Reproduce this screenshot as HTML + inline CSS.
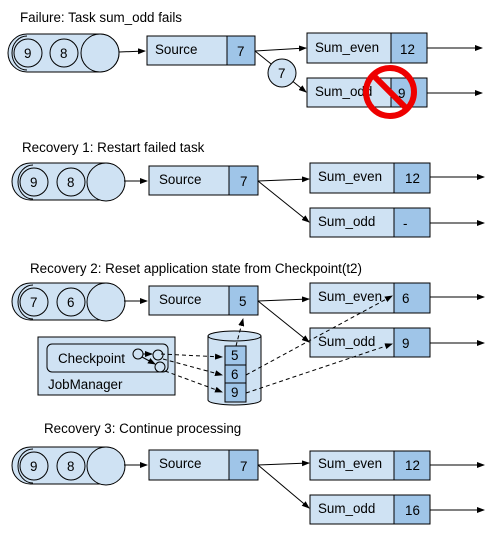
<!DOCTYPE html>
<html><head><meta charset="utf-8"><style>body{margin:0;background:#fff}svg{display:block}text{font-family:"Liberation Sans",Arial,sans-serif;font-size:13.4px;fill:#000}</style></head><body>
<svg width="498" height="540" viewBox="0 0 498 540" xmlns="http://www.w3.org/2000/svg">
<defs><marker id="a" markerWidth="8" markerHeight="6" refX="7" refY="3" orient="auto" markerUnits="userSpaceOnUse"><path d="M0,0L8,3L0,6z" fill="#000"/></marker></defs>
<g stroke="#000" stroke-width="1">
<!-- Section 1 -->
<rect x="8" y="34" width="111" height="38" rx="19" fill="#cfe2f3"/>
<path d="M27,36 A15,17 0 0 0 27,70" fill="none"/>
<circle cx="28" cy="53" r="14" fill="#cfe2f3"/>
<circle cx="64" cy="53" r="14" fill="#cfe2f3"/>
<circle cx="100" cy="53" r="19" fill="#cfe2f3"/>
<line x1="119" y1="52" x2="145" y2="51" marker-end="url(#a)"/>
<rect x="147" y="36" width="108" height="29" fill="#cfe2f3"/><rect x="227" y="36" width="28" height="29" fill="#9fc5e8"/>
<rect x="307" y="33" width="120" height="30" fill="#cfe2f3"/><rect x="391" y="33" width="36" height="30" fill="#9fc5e8"/>
<rect x="307" y="78" width="120" height="29" fill="#cfe2f3"/><rect x="391" y="78" width="36" height="29" fill="#9fc5e8"/>
<line x1="255" y1="51" x2="306" y2="48" marker-end="url(#a)"/>
<line x1="255" y1="51" x2="306" y2="92" marker-end="url(#a)"/>
<circle cx="282" cy="73" r="14" fill="#cfe2f3"/>
<line x1="427" y1="48" x2="482" y2="48" marker-end="url(#a)"/>
<line x1="427" y1="93" x2="482" y2="93" marker-end="url(#a)"/>
<!-- Section 2 -->
<rect x="12" y="163" width="112" height="37" rx="18.5" fill="#cfe2f3"/>
<path d="M33,165 A15,17 0 0 0 33,199" fill="none"/>
<circle cx="34" cy="182" r="14" fill="#cfe2f3"/>
<circle cx="71" cy="182" r="14" fill="#cfe2f3"/>
<circle cx="106" cy="182" r="19" fill="#cfe2f3"/>
<line x1="124" y1="181" x2="147" y2="181" marker-end="url(#a)"/>
<rect x="149" y="166" width="109" height="29" fill="#cfe2f3"/><rect x="229" y="166" width="29" height="29" fill="#9fc5e8"/>
<rect x="310" y="163" width="120" height="30" fill="#cfe2f3"/><rect x="394" y="163" width="36" height="30" fill="#9fc5e8"/>
<rect x="310" y="208" width="120" height="29" fill="#cfe2f3"/><rect x="394" y="208" width="36" height="29" fill="#9fc5e8"/>
<line x1="258" y1="181" x2="309" y2="179" marker-end="url(#a)"/>
<line x1="258" y1="181" x2="309" y2="222" marker-end="url(#a)"/>
<line x1="430" y1="177" x2="484" y2="177" marker-end="url(#a)"/>
<line x1="430" y1="223" x2="484" y2="223" marker-end="url(#a)"/>
<!-- Section 3 -->
<rect x="12" y="283" width="112" height="37" rx="18.5" fill="#cfe2f3"/>
<path d="M33,285 A15,17 0 0 0 33,319" fill="none"/>
<circle cx="34" cy="302" r="14" fill="#cfe2f3"/>
<circle cx="71" cy="302" r="14" fill="#cfe2f3"/>
<circle cx="106" cy="302" r="19" fill="#cfe2f3"/>
<line x1="124" y1="301" x2="147" y2="301" marker-end="url(#a)"/>
<rect x="149" y="286" width="109" height="29" fill="#cfe2f3"/><rect x="229" y="286" width="29" height="29" fill="#9fc5e8"/>
<rect x="310" y="283" width="120" height="30" fill="#cfe2f3"/><rect x="394" y="283" width="36" height="30" fill="#9fc5e8"/>
<rect x="310" y="328" width="120" height="29" fill="#cfe2f3"/><rect x="394" y="328" width="36" height="29" fill="#9fc5e8"/>
<line x1="258" y1="301" x2="309" y2="299" marker-end="url(#a)"/>
<line x1="258" y1="301" x2="309" y2="342" marker-end="url(#a)"/>
<line x1="430" y1="297" x2="484" y2="297" marker-end="url(#a)"/>
<line x1="430" y1="343" x2="484" y2="343" marker-end="url(#a)"/>
<rect x="38" y="337" width="137" height="58" fill="#cfe2f3"/>
<rect x="47" y="344" width="121" height="28" rx="5" fill="#cfe2f3"/>
<circle cx="138" cy="354" r="5" fill="#cfe2f3"/><circle cx="158" cy="355" r="5" fill="#cfe2f3"/><circle cx="160" cy="367" r="5" fill="#cfe2f3"/>
<line x1="143" y1="354" x2="152" y2="354" marker-end="url(#a)"/>
<line x1="142" y1="357" x2="155" y2="364" marker-end="url(#a)"/>
<path d="M208,336 L208,400 A26.5,5 0 0 0 261,400 L261,336" fill="#cfe2f3"/>
<ellipse cx="234.5" cy="336" rx="26.5" ry="5" fill="#cfe2f3"/>
<rect x="225" y="346" width="21" height="19" fill="#9fc5e8"/>
<rect x="225" y="365" width="21" height="18" fill="#9fc5e8"/>
<rect x="225" y="383" width="21" height="19" fill="#9fc5e8"/>
<g stroke-dasharray="4,3" fill="none">
<line x1="161" y1="354" x2="222" y2="357" marker-end="url(#a)"/>
<line x1="163" y1="359" x2="222" y2="375" marker-end="url(#a)"/>
<line x1="165" y1="371" x2="222" y2="392" marker-end="url(#a)"/>
<line x1="236" y1="346" x2="243" y2="319" marker-end="url(#a)"/>
<line x1="246" y1="375" x2="392" y2="296" marker-end="url(#a)"/>
<line x1="246" y1="393" x2="392" y2="344" marker-end="url(#a)"/>
</g>
<!-- Section 4 -->
<rect x="12" y="447" width="112" height="37" rx="18.5" fill="#cfe2f3"/>
<path d="M33,449 A15,17 0 0 0 33,483" fill="none"/>
<circle cx="34" cy="466" r="14" fill="#cfe2f3"/>
<circle cx="71" cy="466" r="14" fill="#cfe2f3"/>
<circle cx="106" cy="466" r="19" fill="#cfe2f3"/>
<line x1="124" y1="465" x2="147" y2="465" marker-end="url(#a)"/>
<rect x="149" y="450" width="109" height="30" fill="#cfe2f3"/><rect x="229" y="450" width="29" height="30" fill="#9fc5e8"/>
<rect x="310" y="451" width="120" height="29" fill="#cfe2f3"/><rect x="394" y="451" width="36" height="29" fill="#9fc5e8"/>
<rect x="310" y="495" width="120" height="29" fill="#cfe2f3"/><rect x="394" y="495" width="36" height="29" fill="#9fc5e8"/>
<line x1="258" y1="465" x2="309" y2="463" marker-end="url(#a)"/>
<line x1="258" y1="465" x2="309" y2="508" marker-end="url(#a)"/>
<line x1="430" y1="465" x2="484" y2="465" marker-end="url(#a)"/>
<line x1="430" y1="510" x2="484" y2="510" marker-end="url(#a)"/>
</g>
<!-- texts -->
<text x="20" y="22">Failure: Task sum_odd fails</text>
<text x="24" y="58">9</text><text x="60" y="58">8</text>
<text x="155" y="54">Source</text><text x="237" y="56">7</text>
<text x="315" y="52">Sum_even</text><text x="400" y="54">12</text>
<text x="315" y="96">Sum_odd</text><text x="398" y="98">9</text>
<text x="278" y="78">7</text>
<circle cx="390" cy="92" r="24" fill="none" stroke="#e00" stroke-width="6"/>
<line x1="373" y1="75" x2="407" y2="109" stroke="#e00" stroke-width="6"/>
<text x="22" y="152">Recovery 1: Restart failed task</text>
<text x="30" y="187">9</text><text x="67" y="187">8</text>
<text x="159" y="184">Source</text><text x="240" y="186">7</text>
<text x="318" y="181">Sum_even</text><text x="405" y="183">12</text>
<text x="318" y="226">Sum_odd</text><text x="403" y="228">-</text>
<text x="30" y="273">Recovery 2: Reset application state from Checkpoint(t2)</text>
<text x="30" y="307">7</text><text x="67" y="307">6</text>
<text x="159" y="304">Source</text><text x="239" y="306">5</text>
<text x="318" y="301">Sum_even</text><text x="402" y="303">6</text>
<text x="318" y="346">Sum_odd</text><text x="402" y="348">9</text>
<text x="58" y="363">Checkpoint</text>
<text x="48" y="389">JobManager</text>
<text x="231" y="360">5</text><text x="231" y="379">6</text><text x="231" y="397">9</text>
<text x="44" y="433">Recovery 3: Continue processing</text>
<text x="30" y="471">9</text><text x="67" y="471">8</text>
<text x="159" y="468">Source</text><text x="240" y="471">7</text>
<text x="318" y="468">Sum_even</text><text x="405" y="470">12</text>
<text x="318" y="513">Sum_odd</text><text x="405" y="515">16</text>
</svg>
</body></html>
